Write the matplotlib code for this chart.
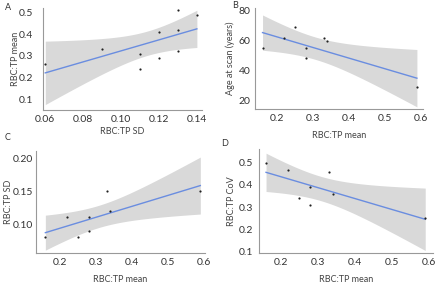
import numpy as np
import matplotlib
matplotlib.use("Agg")
import matplotlib.pyplot as plt

plt.rcParams['font.family'] = ['Lato', 'DejaVu Sans']

# Panel A
a_x = [0.06, 0.09, 0.11, 0.11, 0.12, 0.12, 0.13, 0.13, 0.13, 0.14]
a_y = [0.26, 0.33, 0.31, 0.24, 0.41, 0.29, 0.51, 0.42, 0.32, 0.49]
# Panel B
b_x = [0.16, 0.22, 0.25, 0.28, 0.28, 0.33, 0.34, 0.59]
b_y = [55, 62, 69, 55, 48, 62, 60, 29]
# Panel C
c_x = [0.16, 0.22, 0.25, 0.28, 0.28, 0.33, 0.34, 0.59]
c_y = [0.08, 0.11, 0.08, 0.11, 0.09, 0.15, 0.12, 0.15]
# Panel D
d_x = [0.16, 0.22, 0.25, 0.28, 0.28, 0.33, 0.34, 0.59]
d_y = [0.50, 0.47, 0.34, 0.39, 0.31, 0.46, 0.36, 0.25]

T975 = {6: 2.447, 8: 2.306}

fig = plt.figure(figsize=(4.4, 2.87), dpi=100)
W, H = 440.0, 287.0

def regpanel(box, x, y, xlim, ylim, xticks, yticks, xfmt, yfmt, xlabel, ylabel,
             ypad, ylab_px, xlab_py):
    l, r, t, bt = box
    ax = fig.add_axes([l / W, 1 - bt / H, (r - l) / W, (bt - t) / H])
    x = np.asarray(x, float); y = np.asarray(y, float)
    n = len(x)
    b, a = np.polyfit(x, y, 1)
    xs = np.linspace(x.min(), x.max(), 100)
    yhat = a + b * xs
    resid = y - (a + b * x)
    s = np.sqrt(np.sum(resid**2) / (n - 2))
    sxx = np.sum((x - x.mean())**2)
    se = s * np.sqrt(1.0 / n + (xs - x.mean())**2 / sxx)
    tq = T975[n - 2]
    ax.fill_between(xs, yhat - tq * se, yhat + tq * se, color='#d9d9d9', lw=0, zorder=1)
    ax.plot(xs, yhat, color='#6a8de0', lw=1.0, zorder=2)
    ax.scatter(x, y, s=2.5, color='#222222', zorder=3, lw=0)
    ax.set_xlim(*xlim); ax.set_ylim(*ylim)
    ax.set_xticks(xticks); ax.set_yticks(yticks)
    ax.set_xticklabels([xfmt.format(v) for v in xticks])
    ax.set_yticklabels([yfmt.format(v) for v in yticks])
    for sp in ['top', 'right']:
        ax.spines[sp].set_visible(False)
    for sp in ['left', 'bottom']:
        ax.spines[sp].set_color('#999999')
        ax.spines[sp].set_linewidth(0.8)
    ax.tick_params(length=0, labelsize=7.5, colors='#333333')
    ax.tick_params(axis='x', pad=3.5)
    ax.tick_params(axis='y', pad=ypad)
    ax.set_xlabel(xlabel, fontsize=6.5, color='#444444')
    ax.set_ylabel(ylabel, fontsize=6.5, color='#444444')
    ax.yaxis.set_label_coords((ylab_px - l) / (r - l), 0.5)
    ax.xaxis.set_label_coords(0.5, -(xlab_py - bt) / (bt - t))
    ax.xaxis.label.set_va('center')
    ax.yaxis.label.set_va('center')
    return ax

regpanel((43, 202, 8, 110), a_x, a_y, (0.0588, 0.1427), (0.05, 0.52),
         [0.06, 0.08, 0.10, 0.12, 0.14], [0.1, 0.2, 0.3, 0.4, 0.5],
         '{:.2f}', '{:.1f}', 'RBC:TP SD', 'RBC:TP mean', 7.0, 15, 131.5)

regpanel((255, 423, 8, 109), b_x, b_y, (0.139, 0.607), (14, 82),
         [0.2, 0.3, 0.4, 0.5, 0.6], [20, 40, 60, 80],
         '{:.1f}', '{:.0f}', 'RBC:TP mean', 'Age at scan (years)', 3.0, 230, 135)

regpanel((36, 205, 151, 253), c_x, c_y, (0.134, 0.603), (0.056, 0.211),
         [0.2, 0.3, 0.4, 0.5, 0.6], [0.10, 0.15, 0.20],
         '{:.1f}', '{:.2f}', 'RBC:TP mean', 'RBC:TP SD', 2.0, 9, 279.5)

regpanel((259, 433, 149, 253), d_x, d_y, (0.141, 0.611), (0.092, 0.563),
         [0.2, 0.3, 0.4, 0.5, 0.6], [0.1, 0.2, 0.3, 0.4, 0.5],
         '{:.1f}', '{:.1f}', 'RBC:TP mean', 'RBC:TP CoV', 4.5, 231.5, 279.5)

for lbl, px, py in [('A', 5, 7), ('B', 232, 5), ('C', 5, 137), ('D', 221, 143)]:
    fig.text(px / W, 1 - py / H, lbl, fontsize=6.5, color='#333333', va='center', ha='left')

fig.savefig('out.png', dpi=100)
